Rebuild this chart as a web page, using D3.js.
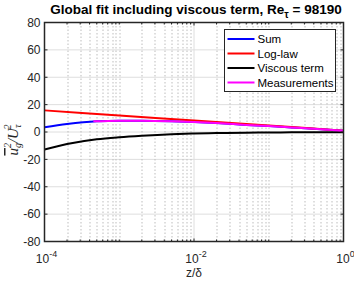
<!DOCTYPE html>
<html>
<head>
<meta charset="utf-8">
<script src="https://cdn.jsdelivr.net/npm/d3@7"></script>
<style>
  body { margin: 0; background: #fff; }
  text { font-family: "Liberation Sans", Arial, sans-serif; fill: #262626; }
</style>
</head>
<body>
<svg id="chart"></svg>
<script>
// data
var zLog = [1e-4, 1e-3, 1e-2, 1e-1, 1];
var logLaw = [15.8, 12.1, 8.4, 4.7, 1.0];

var zFit = [1e-4, 2e-4, 5e-4, 1e-3, 2e-3, 5e-3, 1e-2, 2e-2, 5e-2, 1e-1, 2e-1, 5e-1, 1];
var viscous = [-12.8, -8.8, -5.3, -3.8, -2.7, -1.6, -1.1, -0.8, -0.5, -0.35, -0.25, -0.15, -0.1];
var sumFit = [3.5, 5.9, 7.9, 8.3, 8.3, 7.9, 7.3, 6.5, 5.2, 4.3, 3.3, 2.0, 0.9];

var zMeas = [4.5e-4, 1e-3, 2e-3, 5e-3, 1e-2, 2e-2, 5e-2, 1e-1, 2e-1, 5e-1, 1];
var meas = [7.8, 8.3, 8.3, 7.9, 7.3, 6.5, 5.2, 4.3, 3.3, 2.0, 0.9];

var yTicks = [-80, -60, -40, -20, 0, 20, 40, 60, 80];
var xMajor = [1e-4, 1e-2, 1];
var xLabels = ["-4", "-2", "0"];

var series = [
    { name: "Sum", color: "#0000ff", x: zFit, y: sumFit },
    { name: "Log-law", color: "#ff0000", x: zLog, y: logLaw },
    { name: "Viscous term", color: "#000000", x: zFit, y: viscous },
    { name: "Measurements", color: "#ff00ff", x: zMeas, y: meas }
];

var svgWidth = 354, svgHeight = 283;
var margin = { top: 22.5, right: 10.5, bottom: 41.5, left: 44.5 };
var width = svgWidth - margin.left - margin.right;
var height = svgHeight - margin.top - margin.bottom;

var svg = d3.select("#chart")
    .attr("width", svgWidth)
    .attr("height", svgHeight);

var g = svg.append("g")
    .attr("transform", "translate(" + margin.left + "," + margin.top + ")");

var x = d3.scaleLog().domain([1e-4, 1]).range([0, width]);
var y = d3.scaleLinear().domain([-80, 80]).range([height, 0]);

// minor positions
var xMinor = [];
for (var e = -4; e < 0; e++) {
    for (var k = 1; k < 10; k++) {
        var v = k * Math.pow(10, e);
        if (xMajor.indexOf(v) < 0) xMinor.push(v);
    }
}

// grid
g.selectAll(".ygrid").data(yTicks).enter().append("line")
    .attr("x1", 0).attr("x2", width)
    .attr("y1", function(d) { return y(d); })
    .attr("y2", function(d) { return y(d); })
    .attr("stroke", "#dedede").attr("stroke-width", 1);

g.selectAll(".xminor").data(xMinor).enter().append("line")
    .attr("x1", function(d) { return Math.round(x(d)) + 0.5; })
    .attr("x2", function(d) { return Math.round(x(d)) + 0.5; })
    .attr("y1", 0).attr("y2", height)
    .attr("stroke", "#bdbdbd").attr("stroke-width", 1)
    .attr("stroke-dasharray", "1.5,2");

g.selectAll(".xmajor").data(xMajor).enter().append("line")
    .attr("x1", function(d) { return x(d); })
    .attr("x2", function(d) { return x(d); })
    .attr("y1", 0).attr("y2", height)
    .attr("stroke", "#dedede").attr("stroke-width", 1);

// curves
var line = d3.line()
    .x(function(d) { return x(d[0]); })
    .y(function(d) { return y(d[1]); })
    .curve(d3.curveMonotoneX);

series.forEach(function(s) {
    g.append("path")
        .datum(d3.zip(s.x, s.y))
        .attr("fill", "none")
        .attr("stroke", s.color)
        .attr("stroke-width", 2)
        .attr("d", line);
});

// axes
var xAxis = d3.axisBottom(x).tickValues(xMajor).tickSize(0).tickFormat("");
g.append("g").attr("transform", "translate(0," + height + ")").call(xAxis)
    .select(".domain").remove();

// ticks inside on all four sides
function ticksX(vals, len) {
    g.selectAll(null).data(vals).enter().append("line")
        .attr("x1", function(d) { return x(d); }).attr("x2", function(d) { return x(d); })
        .attr("y1", height).attr("y2", height - len)
        .attr("stroke", "#262626");
    g.selectAll(null).data(vals).enter().append("line")
        .attr("x1", function(d) { return x(d); }).attr("x2", function(d) { return x(d); })
        .attr("y1", 0).attr("y2", len)
        .attr("stroke", "#262626");
}
ticksX(xMinor, 2);
ticksX(xMajor, 3);

g.selectAll(null).data(yTicks).enter().append("line")
    .attr("x1", 0).attr("x2", 3)
    .attr("y1", function(d) { return y(d); }).attr("y2", function(d) { return y(d); })
    .attr("stroke", "#262626");
g.selectAll(null).data(yTicks).enter().append("line")
    .attr("x1", width).attr("x2", width - 3)
    .attr("y1", function(d) { return y(d); }).attr("y2", function(d) { return y(d); })
    .attr("stroke", "#262626");

g.append("rect")
    .attr("width", width).attr("height", height)
    .attr("fill", "none").attr("stroke", "#262626").attr("stroke-width", 1.5);

// y tick labels
g.selectAll(".ylab").data(yTicks).enter().append("text")
    .attr("x", -4).attr("y", function(d) { return y(d); })
    .attr("dy", "0.36em")
    .attr("text-anchor", "end")
    .style("font-size", "12px")
    .text(function(d) { return d; });

// x tick labels 10^n
var xl = g.selectAll(".xlab").data(xMajor).enter().append("text")
    .attr("x", function(d) { return x(d) + 2; })
    .attr("y", height + 21)
    .attr("text-anchor", "middle")
    .style("font-size", "12px");
xl.append("tspan").text("10");
xl.append("tspan").attr("dy", -6).style("font-size", "9px")
    .text(function(d, i) { return xLabels[i]; });

// x label
g.append("text")
    .attr("x", width / 2).attr("y", height + 35)
    .attr("text-anchor", "middle")
    .style("font-size", "12px")
    .text("z/δ");

// y label
var yl = svg.append("text")
    .attr("transform", "translate(18," + (margin.top + height / 2 + 8) + ") rotate(-90)")
    .attr("text-anchor", "middle")
    .style("font-family", "'Liberation Serif', 'Times New Roman', serif")
    .style("font-style", "italic")
    .style("font-size", "15px");
yl.append("tspan").style("text-decoration", "overline").text("u");
yl.append("tspan").attr("dy", 3).style("font-size", "10px").text("g");
yl.append("tspan").attr("dx", -5).attr("dy", -10).style("font-size", "10px").text("2");
yl.append("tspan").attr("dy", 7).text("/U");
yl.append("tspan").attr("dy", 3).style("font-size", "10px").text("τ");
yl.append("tspan").attr("dx", -5).attr("dy", -10).style("font-size", "10px").text("2");

// title
var t = svg.append("text")
    .attr("x", margin.left + width / 2 + 2).attr("y", 14)
    .attr("text-anchor", "middle")
    .style("font-size", "13.5px")
    .style("font-weight", "bold")
    .style("fill", "#000");
t.append("tspan").text("Global fit including viscous term, Re");
t.append("tspan").attr("dy", 4).style("font-size", "10px").text("τ");
t.append("tspan").attr("dy", -4).text(" = 98190");

// legend
var lg = svg.append("g").attr("transform", "translate(224.5,29.5)");
lg.append("rect")
    .attr("width", 111).attr("height", 62)
    .attr("fill", "#fff").attr("stroke", "#262626").attr("stroke-width", 1);
series.forEach(function(s, i) {
    var yy = 9.5 + i * 14.5;
    lg.append("line")
        .attr("x1", 3).attr("x2", 30).attr("y1", yy).attr("y2", yy)
        .attr("stroke", s.color).attr("stroke-width", 2);
    lg.append("text")
        .attr("x", 33).attr("y", yy).attr("dy", "0.36em")
        .style("font-size", "11.5px")
        .style("fill", "#000")
        .text(s.name);
});
</script>
</body>
</html>
